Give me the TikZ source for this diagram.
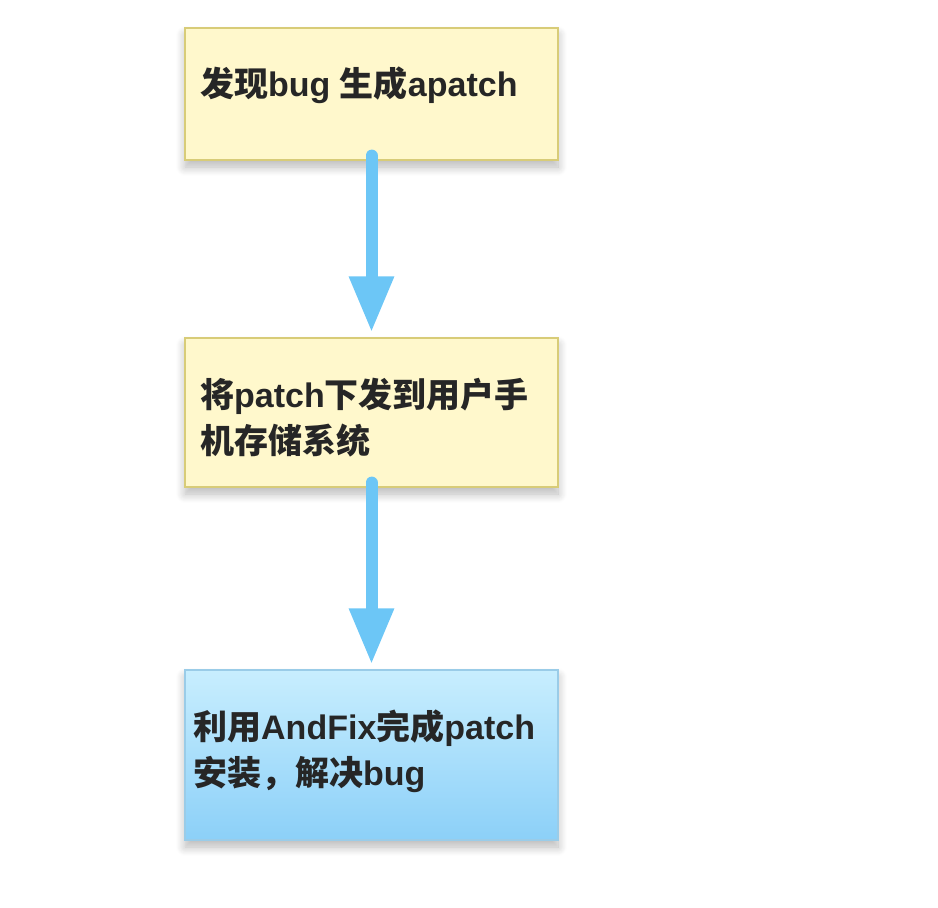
\documentclass[tikz,border=0pt]{standalone}
\usepackage{fontspec}
\setmainfont{Liberation Sans}
\newfontfamily\cjk{Noto Sans CJK SC}
\usetikzlibrary{arrows.meta,shadows.blur}
\definecolor{yfill}{HTML}{FFF8CC}
\definecolor{ydraw}{HTML}{D8CC78}
\definecolor{btop}{HTML}{C8EEFE}
\definecolor{bbot}{HTML}{8CD0F8}
\definecolor{bdraw}{HTML}{9ACCE8}
\definecolor{arr}{HTML}{6CC6F6}
\newcommand{\zh}[1]{{\cjk\bfseries #1}}
\tikzset{
  box/.style={rectangle, minimum width=373pt, inner sep=0pt, line width=1.2pt,
    blur shadow={shadow xshift=0pt, shadow yshift=-7pt, shadow blur steps=10, shadow blur radius=9pt, shadow opacity=28}},
  ybox/.style={box, fill=yfill, draw=ydraw},
  bbox/.style={box, top color=btop, bottom color=bbot, draw=bdraw},
  lbl/.style={anchor=west, align=left, inner sep=0pt, text=black!85, font=\fontsize{34}{46}\selectfont\bfseries},
  flow/.style={draw=arr, line width=12pt, line cap=round, -{Triangle[width=42pt,length=56pt]}}
}
\begin{document}
\begin{tikzpicture}[x=1pt,y=-1pt]
\useasboundingbox (0,0) rectangle (938,908);
\node[ybox, minimum height=132pt] (b1) at (371.5,94) {};
\node[ybox, minimum height=149pt] (b2) at (371.5,412.5) {};
\node[bbox, minimum height=170pt] (b3) at (371.5,755) {};
\node[lbl] (t1) at (200,85) {\zh{发现}bug \zh{生成}apatch};
\node[lbl] (t2) at (200,418) {\zh{将}patch\zh{下发到用户手}\\\zh{机存储系统}};
\node[lbl] (t3) at (193,751) {\zh{利用}AndFix\zh{完成}patch\\\zh{安装，解决}bug};
\draw[flow, shorten >=5pt] ([yshift=5pt]b1.south) -- (b2.north);
\draw[flow, shorten >=5pt] ([yshift=5pt]b2.south) -- (b3.north);
\end{tikzpicture}
\end{document}
